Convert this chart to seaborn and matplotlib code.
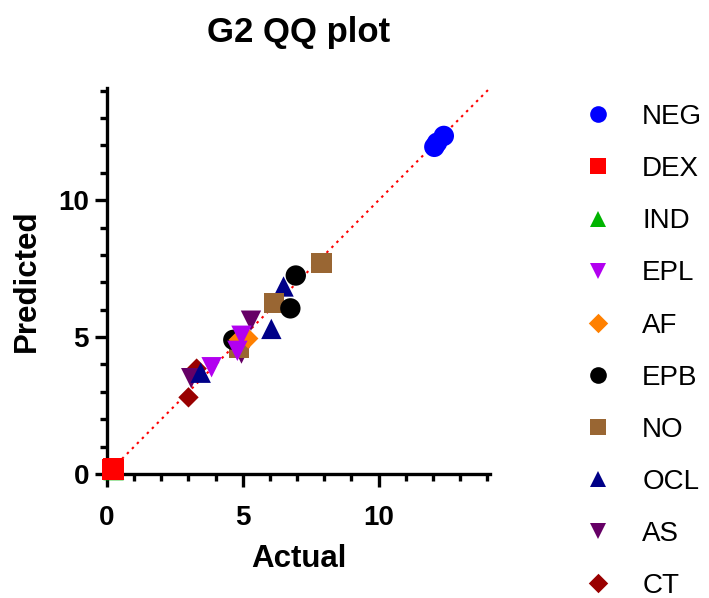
import matplotlib
matplotlib.use("Agg")
import matplotlib.pyplot as plt
from matplotlib.lines import Line2D
from matplotlib.ticker import MultipleLocator
import seaborn as sns
import pandas as pd

groups = ["NEG", "DEX", "IND", "EPL", "AF", "EPB", "NO", "OCL", "AS", "CT"]
colors = ["#0000FF", "#FF0000", "#00B400", "#B200F0", "#FF8000",
          "#000000", "#996633", "#000088", "#660066", "#990000"]
marker_list = ["o", "s", "^", "v", "D", "o", "s", "^", "v", "D"]

neg_x = [12.05, 12.15, 12.4]; neg_y = [11.95, 12.1, 12.35]
dex_x = [0.2, 0.22, 0.24];    dex_y = [0.17, 0.2, 0.17]
ind_x = [0.24, 0.26];         ind_y = [0.14, 0.16]
epl_x = [3.85, 4.8, 4.95];    epl_y = [3.9, 4.5, 5.05]
af_x = [4.85, 5.2];           af_y = [4.9, 4.95]
epb_x = [4.65, 6.75, 6.95];   epb_y = [4.9, 6.05, 7.25]
no_x = [4.85, 6.15, 7.9];     no_y = [4.6, 6.25, 7.7]
ocl_x = [3.45, 6.05, 6.5];    ocl_y = [3.7, 5.3, 6.85]
as_x = [3.1, 4.95, 5.3];      as_y = [3.5, 4.4, 5.6]
ct_x = [3.0, 3.3];            ct_y = [2.8, 3.85]

xs = [neg_x, dex_x, ind_x, epl_x, af_x, epb_x, no_x, ocl_x, as_x, ct_x]
ys = [neg_y, dex_y, ind_y, epl_y, af_y, epb_y, no_y, ocl_y, as_y, ct_y]

sns.set_theme(style="ticks")
plt.rcParams["font.family"] = ["Liberation Sans", "DejaVu Sans"]
plt.rcParams["text.color"] = "black"
plt.rcParams["axes.labelcolor"] = "black"
plt.rcParams["xtick.color"] = "black"
plt.rcParams["ytick.color"] = "black"

rows = []
for g, gx, gy in zip(groups, xs, ys):
    for a, b in zip(gx, gy):
        rows.append({"Actual": a, "Predicted": b, "group": g})
df = pd.DataFrame(rows)
# draw last groups first so earlier groups sit on top
df["order"] = df["group"].map({g: i for i, g in enumerate(groups)})
df = df.sort_values("order", ascending=False, kind="stable")

diamond = [(0, 1), (1, 0), (0, -1), (-1, 0), (0, 1)]
mk = {}
for g, m in zip(groups, marker_list):
    mk[g] = diamond if m == "D" else m
pal = dict(zip(groups, colors))

fig = plt.figure(figsize=(7.09, 5.98), dpi=100)
ax = fig.add_axes([107 / 709, 1 - 474 / 598, (490 - 107) / 709, (474 - 88) / 598])

lim = 14.1
ax.plot([0, lim], [0, lim], linestyle=(0, (1.2, 2.2)), color="#FF0000",
        linewidth=1.5, zorder=1, clip_on=False)

sns.scatterplot(data=df, x="Actual", y="Predicted", hue="group", style="group",
                markers=mk, palette=pal, hue_order=groups, style_order=groups,
                s=215, linewidth=0, edgecolor="none", alpha=1.0,
                legend=False, ax=ax, clip_on=False, zorder=3)

ax.set_xlim(0, lim)
ax.set_ylim(0, lim)
ax.xaxis.set_major_locator(MultipleLocator(5))
ax.yaxis.set_major_locator(MultipleLocator(5))
ax.xaxis.set_minor_locator(MultipleLocator(1))
ax.yaxis.set_minor_locator(MultipleLocator(1))
sns.despine(ax=ax)
for sp in ["left", "bottom"]:
    ax.spines[sp].set_linewidth(2.4)
    ax.spines[sp].set_color("black")
ax.tick_params(which="major", length=9, width=2.4, direction="out",
               labelsize=20, pad=4, color="black", labelcolor="black")
ax.tick_params(axis="x", which="major", pad=13)
ax.tick_params(which="minor", length=5, width=2.4, direction="out", color="black")
for lab in ax.get_xticklabels() + ax.get_yticklabels():
    lab.set_fontweight("bold")

ax.set_xlabel("Actual", fontsize=22.5, fontweight="bold", labelpad=10, color="black")
ax.set_ylabel("Predicted", fontsize=22.5, fontweight="bold", labelpad=12, color="black")
ax.set_title("G2 QQ plot", fontsize=25, fontweight="bold", pad=33, color="black")

handles = []
for g, c, m in zip(groups, colors, marker_list):
    handles.append(Line2D([], [], linestyle="none", marker=mk[g], color=c,
                          markersize=12 if m != "D" else 14, markeredgewidth=0, label=g))
fig.legend(handles=handles, loc="upper left", bbox_to_anchor=(570 / 709, 1 - 93 / 598),
           frameon=False, fontsize=20, labelspacing=0.94, handletextpad=1.0,
           handlelength=1.2, borderaxespad=0, labelcolor="black")

fig.savefig("out.png", dpi=100)
